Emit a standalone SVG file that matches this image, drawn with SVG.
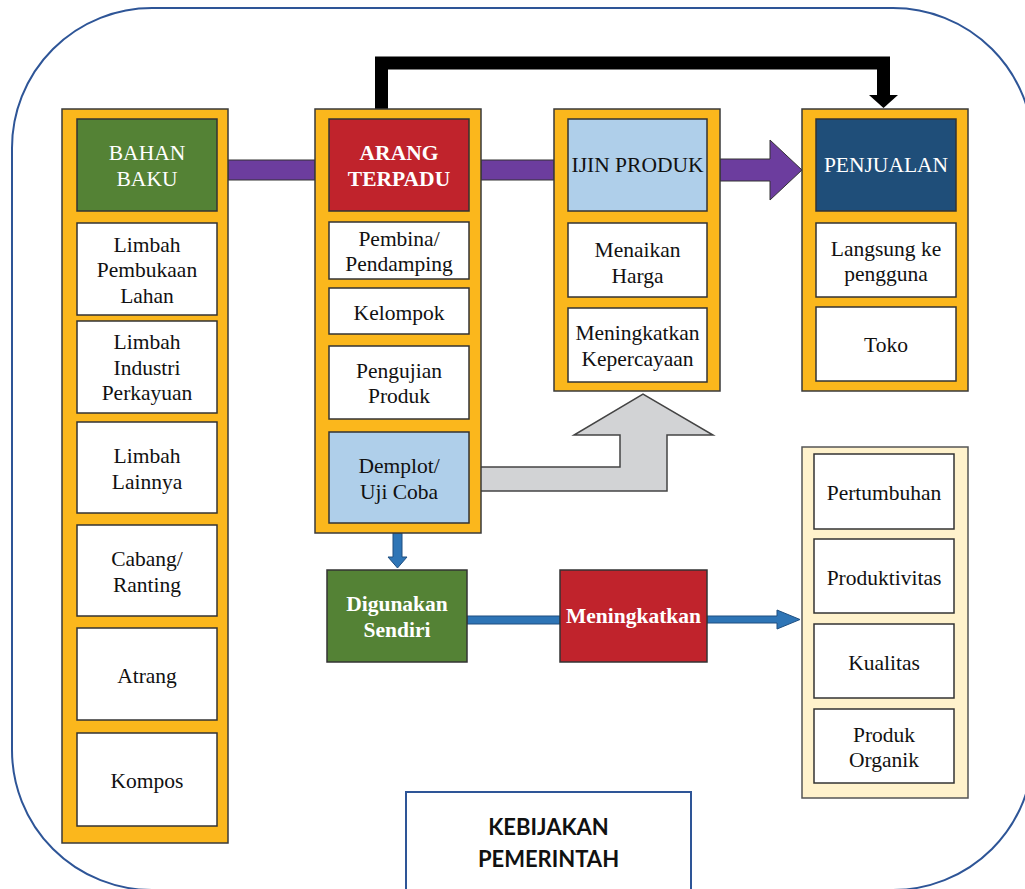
<svg xmlns="http://www.w3.org/2000/svg" width="1025" height="889" viewBox="0 0 1025 889">
  <style>
    .frame { fill: #FBB71C; stroke: #3a3a3a; stroke-width: 1.5; }
    .cream { fill: #FFF2CC; stroke: #555; stroke-width: 1.5; }
    .cell { fill: #ffffff; stroke: #333; stroke-width: 1.5; }
    .t { font-family: "Liberation Serif", "Times New Roman", serif; font-size: 21.5px; text-anchor: middle; fill: #111; }
    .w { fill: #ffffff; }
    .b { font-weight: bold; }
    .sans { font-family: Lato, "Liberation Sans", Arial, sans-serif; font-weight: bold; font-size: 22px; text-anchor: middle; fill: #111; }
  </style>

  <!-- outer rounded border -->
  <rect x="12" y="8" width="1021" height="882" rx="140" ry="140" fill="#ffffff" stroke="#2E5597" stroke-width="2"/>

  <g id="connectors">
    <!-- black bracket from ARANG TERPADU to PENJUALAN -->
    <polyline points="381.5,109 381.5,63 883.5,63 883.5,96" fill="none" stroke="#000" stroke-width="13"/>
    <polygon points="869,95 898,95 883.5,108" fill="#000"/>
    <!-- purple bars -->
    <rect x="228" y="160" width="87" height="20" fill="#6C3D9E" stroke="#333" stroke-width="1"/>
    <rect x="481" y="160" width="73" height="20" fill="#6C3D9E" stroke="#333" stroke-width="1"/>
    <polygon points="720,159 770,159 770,140 802,170 770,200 770,181 720,181" fill="#6C3D9E" stroke="#333" stroke-width="1"/>
    <!-- grey bent arrow from Demplot up to IJIN PRODUK -->
    <polygon points="469,467 620,467 620,435 574,435 643,394 713,435 667,435 667,491 469,491" fill="#D2D3D5" stroke="#444" stroke-width="1.5"/>
    <!-- blue down arrow -->
    <polygon points="393,533 402,533 402,557 407,557 397.5,568 388,557 393,557" fill="#2E75B6" stroke="#1f4f80" stroke-width="1"/>
    <!-- blue horizontal connectors -->
    <rect x="467" y="616" width="93" height="8" fill="#2E75B6" stroke="#1f4f80" stroke-width="1"/>
    <polygon points="707,616 777,616 777,610 800,619.5 777,629 777,623 707,623" fill="#2E75B6" stroke="#1f4f80" stroke-width="1"/>
  </g>

  <g id="bahan-baku">
    <rect class="frame" x="62" y="109" width="166" height="734"/>
    <rect x="77" y="119" width="140" height="92" fill="#548235" stroke="#333" stroke-width="1.5"/>
    <text class="t w" x="147" y="160">BAHAN</text>
    <text class="t w" x="147" y="186">BAKU</text>
    <rect class="cell" x="77" y="223" width="140" height="92"/>
    <text class="t" x="147" y="252">Limbah</text>
    <text class="t" x="147" y="277">Pembukaan</text>
    <text class="t" x="147" y="303">Lahan</text>
    <rect class="cell" x="77" y="321" width="140" height="92"/>
    <text class="t" x="147" y="349">Limbah</text>
    <text class="t" x="147" y="375">Industri</text>
    <text class="t" x="147" y="400">Perkayuan</text>
    <rect class="cell" x="77" y="422" width="140" height="91"/>
    <text class="t" x="147" y="463">Limbah</text>
    <text class="t" x="147" y="489">Lainnya</text>
    <rect class="cell" x="77" y="525" width="140" height="91"/>
    <text class="t" x="147" y="566">Cabang/</text>
    <text class="t" x="147" y="592">Ranting</text>
    <rect class="cell" x="77" y="628" width="140" height="92"/>
    <text class="t" x="147" y="683">Atrang</text>
    <rect class="cell" x="77" y="733" width="140" height="93"/>
    <text class="t" x="147" y="788">Kompos</text>
  </g>

  <g id="arang-terpadu">
    <rect class="frame" x="315" y="109" width="166" height="424"/>
    <rect x="329" y="119" width="140" height="92" fill="#C0232C" stroke="#333" stroke-width="1.5"/>
    <text class="t w b" x="399" y="160">ARANG</text>
    <text class="t w b" x="399" y="186">TERPADU</text>
    <rect class="cell" x="329" y="222" width="140" height="57"/>
    <text class="t" x="399" y="246">Pembina/</text>
    <text class="t" x="399" y="271">Pendamping</text>
    <rect class="cell" x="329" y="288" width="140" height="46"/>
    <text class="t" x="399" y="320">Kelompok</text>
    <rect class="cell" x="329" y="346" width="140" height="73"/>
    <text class="t" x="399" y="378">Pengujian</text>
    <text class="t" x="399" y="403">Produk</text>
    <rect x="329" y="432" width="140" height="91" fill="#AFCFEA" stroke="#333" stroke-width="1.5"/>
    <text class="t" x="399" y="473">Demplot/</text>
    <text class="t" x="399" y="499">Uji Coba</text>
  </g>

  <g id="ijin-produk">
    <rect class="frame" x="554" y="109" width="166" height="282"/>
    <rect x="568" y="119" width="139" height="92" fill="#AFCFEA" stroke="#333" stroke-width="1.5"/>
    <text class="t" x="637.5" y="172">IJIN PRODUK</text>
    <rect class="cell" x="568" y="223" width="139" height="74"/>
    <text class="t" x="637.5" y="257">Menaikan</text>
    <text class="t" x="637.5" y="283">Harga</text>
    <rect class="cell" x="568" y="308" width="139" height="74"/>
    <text class="t" x="637.5" y="340">Meningkatkan</text>
    <text class="t" x="637.5" y="366">Kepercayaan</text>
  </g>

  <g id="penjualan">
    <rect class="frame" x="802" y="109" width="166" height="282"/>
    <rect x="816" y="119" width="140" height="92" fill="#1F4E79" stroke="#333" stroke-width="1.5"/>
    <text class="t w" x="886" y="172">PENJUALAN</text>
    <rect class="cell" x="816" y="223" width="140" height="74"/>
    <text class="t" x="886" y="256">Langsung ke</text>
    <text class="t" x="886" y="281">pengguna</text>
    <rect class="cell" x="816" y="307" width="140" height="74"/>
    <text class="t" x="886" y="352">Toko</text>
  </g>

  <g id="hasil">
    <rect class="cream" x="802" y="447" width="166" height="351"/>
    <rect class="cell" x="814" y="454" width="140" height="75"/>
    <text class="t" x="884" y="500">Pertumbuhan</text>
    <rect class="cell" x="814" y="539" width="140" height="74"/>
    <text class="t" x="884" y="585">Produktivitas</text>
    <rect class="cell" x="814" y="624" width="140" height="74"/>
    <text class="t" x="884" y="670">Kualitas</text>
    <rect class="cell" x="814" y="709" width="140" height="74"/>
    <text class="t" x="884" y="742">Produk</text>
    <text class="t" x="884" y="767">Organik</text>
  </g>

  <g id="digunakan-sendiri">
    <rect x="327" y="570" width="140" height="92" fill="#548235" stroke="#333" stroke-width="1.5"/>
    <text class="t w b" x="397" y="611">Digunakan</text>
    <text class="t w b" x="397" y="637">Sendiri</text>
  </g>

  <g id="meningkatkan">
    <rect x="560" y="570" width="147" height="92" fill="#C0232C" stroke="#333" stroke-width="1.5"/>
    <text class="t w b" x="633.5" y="623">Meningkatkan</text>
  </g>

  <g id="kebijakan-pemerintah">
    <rect x="406" y="792" width="285" height="110" fill="#ffffff" stroke="#2E5597" stroke-width="2"/>
    <text class="sans" x="548.5" y="835">KEBIJAKAN</text>
    <text class="sans" x="548.5" y="867">PEMERINTAH</text>
  </g>
</svg>
